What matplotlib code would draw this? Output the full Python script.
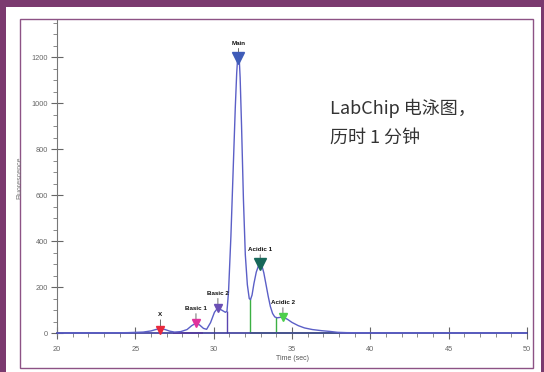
import numpy as np
import matplotlib.pyplot as plt
from matplotlib.patches import Rectangle

# electropherogram trace (time in sec, fluorescence)
trace_time = [20.0, 23.0, 24.5, 25.5, 26.0, 26.3, 26.6, 26.9, 27.2, 27.5, 27.9, 28.3,
              28.6, 28.85, 29.1, 29.35, 29.55, 29.8, 30.05, 30.25, 30.5, 30.75, 30.85,
              30.95, 31.1, 31.25, 31.38, 31.47, 31.53, 31.58, 31.63, 31.69, 31.78, 31.9,
              32.02, 32.15, 32.27, 32.35, 32.45, 32.57, 32.72, 32.86, 32.97, 33.08,
              33.2, 33.33, 33.48, 33.62, 33.76, 33.9, 34.05, 34.25, 34.45, 34.7, 35.0,
              35.4, 35.8, 36.3, 36.9, 37.4, 37.9, 38.5, 40.0, 50.0]
trace_fluor = [0, 0.5, 1.5, 4, 9, 15, 19, 15, 8, 4, 6, 15,
               32, 42, 35, 20, 16, 45, 90, 108, 100, 90, 95,
               180, 420, 720, 980, 1130, 1195, 1215, 1195, 1110, 900, 580,
               340, 210, 150, 145, 165, 215, 265, 292, 300, 292,
               262, 215, 160, 115, 85, 70, 66, 68, 68, 60, 46,
               32, 22, 15, 10, 7, 3, 1.5, 0.5, 0]

peak_names = ['X', 'Basic 1', 'Basic 2', 'Main', 'Acidic 1', 'Acidic 2']
peak_times = [26.6, 28.87, 30.27, 31.58, 32.97, 34.42]
peak_marks = [15, 42, 108, 1195, 298, 68]
peak_colors = ['#e8283c', '#e0329c', '#6a4fb4', '#3f5cb8', '#17685a', '#4ccf4c']
peak_msize = [6, 6, 6, 8, 9, 6]

# peak boundaries (drop lines) and coloured baseline pieces
drop_times = [30.83, 32.33, 33.98]
drop_colors = ['#5a44b0', '#3cb043', '#3cb043']
base_segments = [(27.4, 29.35, '#e04fb0'), (32.33, 38.0, '#8fdc4a')]

annot_lines = ['LabChip 电泳图，', '历时 1 分钟']

plt.rcParams['font.family'] = ['Liberation Sans', 'DejaVu Sans']

fig = plt.figure(figsize=(5.44, 3.72), dpi=100, facecolor='#7b3a6f')
W, H = 544.0, 372.0
fig.patches.append(Rectangle((6 / W, 0), 535 / W, 365 / H, transform=fig.transFigure,
                             facecolor='white', edgecolor='none', zorder=0))
fig.patches.append(Rectangle((20 / W, 4 / H), 513 / W, 349 / H, transform=fig.transFigure,
                             facecolor='none', edgecolor='#8d5285', lw=1.0, zorder=1))

ax = fig.add_axes([57 / W, 1 - 335.3 / H, 470 / W, 315.1 / H])
ax.set_zorder(3)
ax.set_facecolor('none')
ax.set_xlim(20, 50)
ax.set_ylim(-10, 1360)

for s in ['top', 'right']:
    ax.spines[s].set_visible(False)
ax.spines['bottom'].set_position(('data', 0))
ax.spines['bottom'].set_color('#3a3a9a')
ax.spines['bottom'].set_linewidth(1.2)
ax.spines['left'].set_color('#777777')
ax.spines['left'].set_linewidth(0.8)

ax.set_xticks(np.arange(20, 51, 5))
ax.set_xticks(np.arange(20, 51, 1), minor=True)
ax.set_yticks(np.arange(0, 1201, 200))
ax.set_yticks(np.arange(0, 1351, 50), minor=True)
ax.tick_params(which='major', direction='inout', length=9, width=0.8, color='#666666',
               labelsize=5.3, labelcolor='#666666', pad=2)
ax.tick_params(which='minor', direction='out', length=3, width=0.6, color='#777777')
ax.tick_params(axis='x', which='major', pad=5)

ax.set_xlabel('Time (sec)', fontsize=5, color='#555555', labelpad=1)
ax.set_ylabel('Fluorescence', fontsize=5, color='#777777', labelpad=6)

ax.plot(trace_time, trace_fluor, color='#5b5fc7', lw=1.0, zorder=3)

for t, c in zip(drop_times, drop_colors):
    ax.vlines(t, 0, np.interp(t, trace_time, trace_fluor), color=c, lw=1.0, zorder=2)
for t0, t1, c in base_segments:
    ax.hlines(0, t0, t1, color=c, lw=1.3, zorder=2.5)

for name, t, y, c, ms in zip(peak_names, peak_times, peak_marks, peak_colors, peak_msize):
    ax.annotate(name, xy=(t, y), xytext=(0, 9), textcoords='offset points',
                ha='center', va='bottom', fontsize=4.5, fontweight='bold', color='#111111',
                arrowprops=dict(arrowstyle='-', color='#555555', lw=0.6, shrinkA=0, shrinkB=0),
                zorder=5)
    ax.plot(t, y, marker='v', color=c, markersize=ms, markeredgecolor=c, zorder=6)

for i, line in enumerate(annot_lines):
    fig.text(330 / W, 1 - (108 + 30 * i) / H, line, ha='left', va='center', fontsize=13,
             color='#333333', family=['Noto Sans CJK SC', 'DejaVu Sans'])

fig.savefig('out.png', dpi=100, facecolor=fig.get_facecolor())
